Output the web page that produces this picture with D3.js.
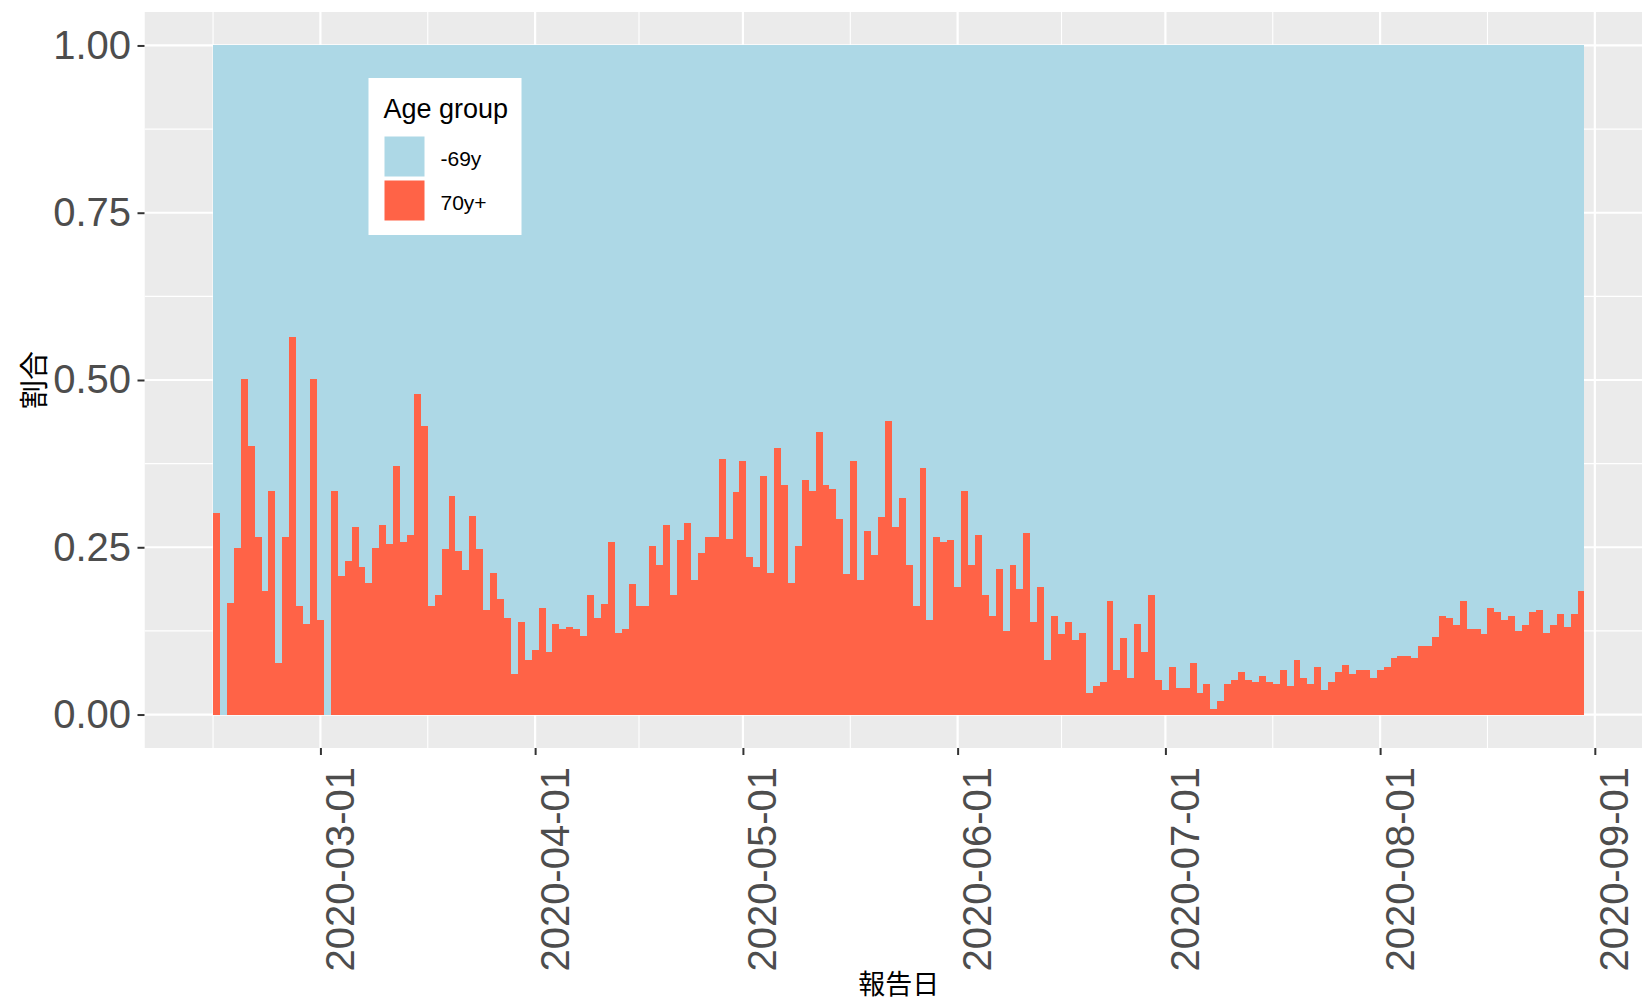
<!DOCTYPE html>
<html>
<head>
<meta charset="utf-8">
<script src="https://cdn.jsdelivr.net/npm/d3@7"></script>
<style>
body { margin: 0; background: #fff; }
text { font-family: "Liberation Sans", Arial, sans-serif; }
.cjk { font-family: "Noto Sans CJK JP", sans-serif; }
</style>
</head>
<body>
<script>
// share of 70y+ among reported cases, one value per report day
var firstDay = "2020-02-15";
var share70Feb = [0.301, 0, 0.167, 0.249, 0.501, 0.402, 0.266, 0.184, 0.334, 0.077, 0.266, 0.564, 0.162, 0.136, 0.501];
var share70Mar = [0.142, 0, 0.334, 0.207, 0.230, 0.281, 0.221, 0.196, 0.249, 0.283, 0.255, 0.371, 0.258, 0.269, 0.479, 0.431,
	0.162, 0.178, 0.247, 0.326, 0.244, 0.216, 0.297, 0.247, 0.156, 0.212, 0.173, 0.145, 0.060, 0.139, 0.082];
var share70Apr = [0.097, 0.159, 0.094, 0.136, 0.128, 0.131, 0.128, 0.117, 0.178, 0.145, 0.165, 0.258, 0.122, 0.128, 0.195,
	0.162, 0.162, 0.252, 0.224, 0.283, 0.178, 0.261, 0.286, 0.201, 0.241, 0.266, 0.266, 0.382, 0.263, 0.332];
var share70May = [0.379, 0.235, 0.221, 0.357, 0.212, 0.399, 0.343, 0.196, 0.252, 0.351, 0.334, 0.422, 0.343, 0.337, 0.292,
	0.210, 0.379, 0.201, 0.275, 0.238, 0.295, 0.439, 0.281, 0.323, 0.224, 0.162, 0.368, 0.142, 0.266, 0.258, 0.261];
var share70Jun = [0.190, 0.334, 0.224, 0.269, 0.178, 0.148, 0.218, 0.125, 0.224, 0.187, 0.272, 0.139, 0.190, 0.082, 0.148,
	0.120, 0.139, 0.111, 0.122, 0.032, 0.043, 0.049, 0.170, 0.066, 0.114, 0.054, 0.136, 0.094, 0.178, 0.051];
var share70Jul = [0.037, 0.071, 0.040, 0.040, 0.077, 0.032, 0.046, 0.009, 0.020, 0.046, 0.051, 0.063, 0.051, 0.049, 0.057,
	0.049, 0.046, 0.066, 0.043, 0.082, 0.054, 0.046, 0.071, 0.037, 0.049, 0.063, 0.074, 0.060, 0.066, 0.066, 0.054];
var share70Aug = [0.066, 0.071, 0.085, 0.088, 0.088, 0.085, 0.102, 0.102, 0.116, 0.148, 0.145, 0.134, 0.170, 0.128, 0.128,
	0.120, 0.159, 0.153, 0.142, 0.148, 0.125, 0.134, 0.153, 0.156, 0.122, 0.134, 0.151, 0.131, 0.151, 0.184];

var groups = ["-69y", "70y+"];
var groupColors = ["#ADD8E6", "#FF6347"];
var monthTicks = ["2020-03-01", "2020-04-01", "2020-05-01", "2020-06-01", "2020-07-01", "2020-08-01", "2020-09-01"];
var yTicks = [0, 0.25, 0.5, 0.75, 1];
var xTitle = "報告日", yTitle = "割合", legendTitle = "Age group";

var width = 1642, height = 1004;
var panel = {left: 144.5, right: 1653, top: 12, bottom: 748};

var parseDay = d3.utcParse("%Y-%m-%d");
var start = parseDay(firstDay);
var share70 = [].concat(share70Feb, share70Mar, share70Apr, share70May, share70Jun, share70Jul, share70Aug);
var days = share70.map(function (v, i) {
	return {date: d3.utcDay.offset(start, i), old: v};
});

var half = 12 * 3600 * 1000;
var lo = +days[0].date - half, hi = +days[days.length - 1].date + half;
var pad = (hi - lo) * 0.05;

var x = d3.scaleUtc()
	.domain([new Date(lo - pad), new Date(hi + pad)])
	.range([panel.left, panel.right]);
var y = d3.scaleLinear()
	.domain([-0.05, 1.05])
	.range([panel.bottom, panel.top]);

var svg = d3.select("body").append("svg")
	.attr("width", width)
	.attr("height", height);

svg.append("defs").append("clipPath")
	.attr("id", "panel-clip")
	.append("rect")
	.attr("x", panel.left)
	.attr("y", panel.top)
	.attr("width", panel.right - panel.left)
	.attr("height", panel.bottom - panel.top);

var plot = svg.append("g").attr("clip-path", "url(#panel-clip)");

plot.append("rect")
	.attr("x", panel.left)
	.attr("y", panel.top)
	.attr("width", panel.right - panel.left)
	.attr("height", panel.bottom - panel.top)
	.attr("fill", "#EBEBEB");

// minor breaks sit halfway between major ones (ggplot style)
var majorX = monthTicks.map(parseDay);
var extX = [new Date(2 * majorX[0] - majorX[1])].concat(majorX);
var minorX = [];
for (var i = 1; i < extX.length; i++) minorX.push(new Date((+extX[i - 1] + +extX[i]) / 2));
var minorY = [];
for (var j = 1; j < yTicks.length; j++) minorY.push((yTicks[j - 1] + yTicks[j]) / 2);

plot.selectAll("line.minor-y").data(minorY).enter().append("line")
	.attr("x1", panel.left).attr("x2", panel.right)
	.attr("y1", function (d) { return y(d); })
	.attr("y2", function (d) { return y(d); })
	.attr("stroke", "#fff").attr("stroke-width", 1.1);
plot.selectAll("line.minor-x").data(minorX).enter().append("line")
	.attr("y1", panel.top).attr("y2", panel.bottom)
	.attr("x1", function (d) { return x(d); })
	.attr("x2", function (d) { return x(d); })
	.attr("stroke", "#fff").attr("stroke-width", 1.1);
plot.selectAll("line.major-y").data(yTicks).enter().append("line")
	.attr("x1", panel.left).attr("x2", panel.right)
	.attr("y1", function (d) { return y(d); })
	.attr("y2", function (d) { return y(d); })
	.attr("stroke", "#fff").attr("stroke-width", 2.2);
plot.selectAll("line.major-x").data(majorX).enter().append("line")
	.attr("y1", panel.top).attr("y2", panel.bottom)
	.attr("x1", function (d) { return x(d); })
	.attr("x2", function (d) { return x(d); })
	.attr("stroke", "#fff").attr("stroke-width", 2.2);

var bars = plot.append("g").attr("shape-rendering", "crispEdges");

bars.selectAll("rect.young").data(days).enter().append("rect")
	.attr("class", "young")
	.attr("x", function (d) { return x(new Date(+d.date - half)); })
	.attr("width", function (d) { return x(new Date(+d.date + half)) - x(new Date(+d.date - half)); })
	.attr("y", y(1))
	.attr("height", function (d) { return y(d.old) - y(1); })
	.attr("fill", groupColors[0]);

bars.selectAll("rect.old").data(days).enter().append("rect")
	.attr("class", "old")
	.attr("x", function (d) { return x(new Date(+d.date - half)); })
	.attr("width", function (d) { return x(new Date(+d.date + half)) - x(new Date(+d.date - half)); })
	.attr("y", function (d) { return y(d.old); })
	.attr("height", function (d) { return y(0) - y(d.old); })
	.attr("fill", groupColors[1]);

// axes
var yAxis = svg.append("g")
	.attr("transform", "translate(" + panel.left + ",0)")
	.call(d3.axisLeft(y)
		.tickValues(yTicks)
		.tickFormat(d3.format(".2f"))
		.tickSize(7)
		.tickPadding(6.5));
yAxis.select(".domain").remove();
yAxis.selectAll("line").attr("stroke", "#333").attr("stroke-width", 2);
yAxis.selectAll("text")
	.attr("fill", "#4D4D4D")
	.style("font-size", "40px")
	.style("font-family", "'Liberation Sans', Arial, sans-serif");

var xAxis = svg.append("g")
	.attr("transform", "translate(0," + panel.bottom + ")")
	.call(d3.axisBottom(x)
		.tickValues(majorX)
		.tickFormat(d3.utcFormat("%Y-%m-%d"))
		.tickSize(7));
xAxis.select(".domain").remove();
xAxis.selectAll("line").attr("stroke", "#333").attr("stroke-width", 2);
xAxis.selectAll("text")
	.attr("transform", "rotate(-90)")
	.attr("x", -19)
	.attr("y", 33)
	.attr("dy", 0)
	.attr("fill", "#4D4D4D")
	.style("text-anchor", "end")
	.style("font-size", "40px")
	.style("font-family", "'Liberation Sans', Arial, sans-serif");

svg.append("text")
	.attr("class", "cjk")
	.attr("x", (panel.left + panel.right) / 2)
	.attr("y", 994)
	.attr("text-anchor", "middle")
	.style("font-size", "27px")
	.text(xTitle);

svg.append("text")
	.attr("class", "cjk")
	.attr("transform", "translate(45," + ((panel.top + panel.bottom) / 2) + ") rotate(-90)")
	.attr("text-anchor", "middle")
	.style("font-size", "29px")
	.text(yTitle);

// legend
var legend = svg.append("g").attr("transform", "translate(368.5,78)");
legend.append("rect")
	.attr("width", 153)
	.attr("height", 157)
	.attr("fill", "#fff");
legend.append("text")
	.attr("x", 15)
	.attr("y", 40)
	.style("font-size", "27px")
	.text(legendTitle);

var keys = legend.selectAll("g.key").data(groups).enter().append("g")
	.attr("transform", function (d, i) { return "translate(16," + (58.5 + i * 44) + ")"; });
keys.append("rect")
	.attr("width", 40)
	.attr("height", 40)
	.attr("fill", function (d, i) { return groupColors[i]; });
keys.append("text")
	.attr("x", 56)
	.attr("y", 22)
	.attr("dy", "0.35em")
	.style("font-size", "21px")
	.text(function (d) { return d; });
</script>
</body>
</html>
